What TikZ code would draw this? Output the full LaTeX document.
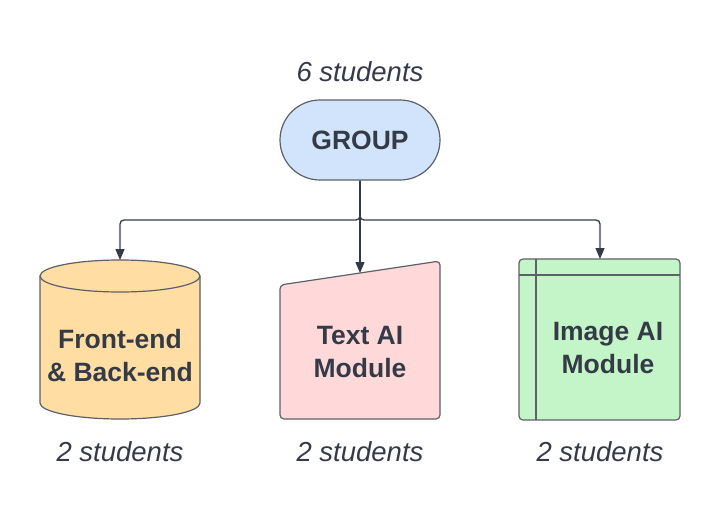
\documentclass[tikz,border=0pt]{standalone}
\usepackage{fontspec}
\setmainfont{Liberation Sans}
\usetikzlibrary{arrows.meta}
\definecolor{ink}{HTML}{343B46}
\definecolor{rim}{HTML}{5C6068}
\definecolor{grpblue}{HTML}{D2E4FC}
\definecolor{feorange}{HTML}{FFDDA3}
\definecolor{txtpink}{HTML}{FFD9DA}
\definecolor{imggreen}{HTML}{C4F5C8}
\tikzset{
edge/.style={draw=ink, line width=1.3pt, rounded corners=4pt, -{Triangle[width=9pt,length=11pt]}},
box/.style={draw=rim, line width=1.2pt, rounded corners=4pt},
lbl/.style={font=\fontsize{26.5}{33}\selectfont\bfseries, text=ink, align=center},
cnt/.style={font=\fontsize{27.5}{30}\selectfont\itshape, text=ink}
}

\begin{document}
\begin{tikzpicture}[x=1pt,y=-1pt]
\useasboundingbox (0,0) rectangle (720,520);
\coordinate (split) at (360,220);
\coordinate (fetop) at (120,260);
\coordinate (txttop) at (360,273);
\coordinate (imgtop) at (600,259);
\node[box, fill=grpblue, rounded corners=40pt, minimum width=160pt, minimum height=80pt, inner sep=0pt, lbl] (group) at (360,140) {GROUP};
\node[cnt] (grpcnt) at (360,72) {6 students};
\draw[box, fill=feorange, rounded corners=0pt] (40,276) -- (40,403)
	arc[start angle=180, end angle=360, x radius=80pt, y radius=16pt] -- (200,276)
	arc[start angle=0, end angle=180, x radius=80pt, y radius=16pt] -- cycle;
\draw[box, rounded corners=0pt] (40,276) arc[start angle=180, end angle=360, x radius=80pt, y radius=16pt];
\draw[box, fill=txtpink] (280,285) -- (440,261) -- (440,419) -- (280,419) -- cycle;
\draw[box, fill=imggreen] (519,259) rectangle (680,420);
\draw[draw=rim, line width=1.2pt] (536,259) -- (536,420);
\draw[draw=rim, line width=1.2pt] (519,275) -- (680,275);
\node[lbl] (fe) at (120,356) {Front-end\\\& Back-end};
\node[lbl] (txt) at (360,352) {Text AI\\Module};
\node[lbl] (img) at (608,348) {Image AI\\Module};
\node[cnt] (fecnt) at (120,452) {2 students};
\node[cnt] (txtcnt) at (360,452) {2 students};
\node[cnt] (imgcnt) at (600,452) {2 students};
\draw[edge] (group.south) -- (split) -| (fetop);
\draw[edge] (group.south) -- (split) -| (imgtop);
\draw[edge] (group.south) -- (txttop);
\end{tikzpicture}
\end{document}
